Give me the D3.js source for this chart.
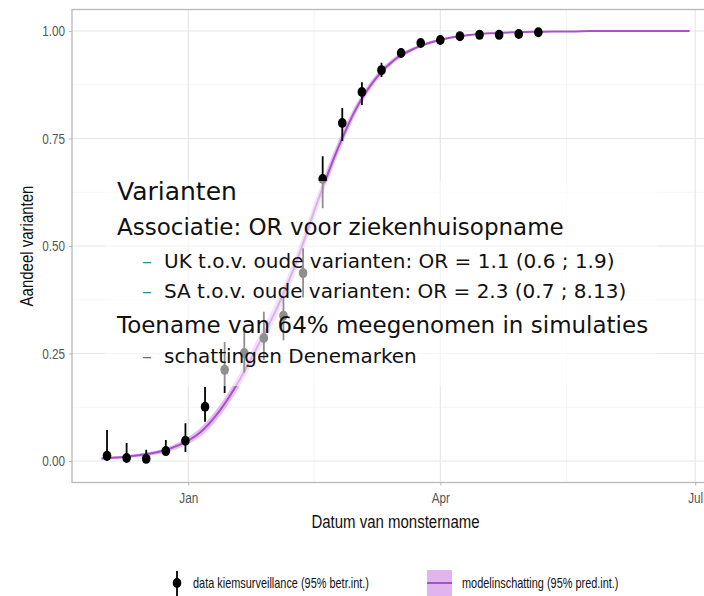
<!DOCTYPE html>
<html><head><meta charset="utf-8">
<script src="https://cdn.jsdelivr.net/npm/d3@7"></script>
<style>body{margin:0;background:#fff} svg{display:block}</style>
</head><body>
<svg id="chart" width="704" height="596"></svg>
<script>
// ---- data ----
const pointDates = ["2020-12-03","2020-12-10","2020-12-17","2020-12-24","2020-12-31","2021-01-07","2021-01-14","2021-01-21","2021-01-28","2021-02-04","2021-02-11","2021-02-18","2021-02-25","2021-03-04","2021-03-11","2021-03-18","2021-03-25","2021-04-01","2021-04-08","2021-04-15","2021-04-22","2021-04-29","2021-05-06"];
const pointValues = [0.012,0.007,0.005,0.023,0.047,0.126,0.212,0.251,0.286,0.338,0.437,0.656,0.786,0.858,0.909,0.949,0.972,0.979,0.988,0.991,0.991,0.993,0.997];
const pointLow    = [0.000,0.000,0.000,0.014,0.021,0.091,0.158,0.205,0.235,0.281,0.380,0.588,0.744,0.828,0.893,0.938,0.964,0.972,0.983,0.987,0.987,0.990,0.994];
const pointHigh   = [0.072,0.042,0.026,0.049,0.088,0.172,0.277,0.305,0.347,0.381,0.495,0.709,0.821,0.881,0.926,0.960,0.980,0.986,0.993,0.995,0.995,0.996,0.999];

const fitDates = ["2020-12-01","2020-12-08","2020-12-15","2020-12-22","2020-12-29","2021-01-05","2021-01-12","2021-01-19","2021-01-26","2021-02-02","2021-02-09","2021-02-16","2021-02-23","2021-03-02","2021-03-09","2021-03-16","2021-03-23","2021-03-30","2021-04-06","2021-04-13","2021-04-20","2021-04-27","2021-05-04","2021-05-11","2021-05-18","2021-05-25","2021-06-01","2021-06-08","2021-06-15","2021-06-22","2021-06-29"];
const fitValues = [0.006,0.009,0.014,0.022,0.038,0.065,0.115,0.185,0.270,0.360,0.470,0.600,0.720,0.820,0.890,0.935,0.960,0.976,0.986,0.992,0.995,0.997,0.998,0.999,0.999,1,1,1,1,1,1];
const fitLow    = [0.003,0.006,0.010,0.017,0.031,0.055,0.102,0.170,0.252,0.341,0.451,0.582,0.705,0.809,0.882,0.929,0.956,0.973,0.984,0.991,0.994,0.996,0.997,0.998,0.998,0.999,0.999,0.999,0.999,0.999,0.999];
const fitHigh   = [0.009,0.012,0.018,0.027,0.045,0.075,0.128,0.200,0.288,0.379,0.489,0.618,0.735,0.831,0.898,0.941,0.964,0.979,0.988,0.993,0.996,0.998,0.999,1,1,1,1,1,1,1,1];

const xTickDates = ["2021-01-01","2021-04-01","2021-07-01"];
const xTickLabels = ["Jan","Apr","Jul"];
const xMinorDates = ["2021-02-15","2021-05-16"];
const yTicks = [0, 0.25, 0.5, 0.75, 1];
const yTickLabels = ["0.00","0.25","0.50","0.75","1.00"];
const yMinor = [0.125, 0.375, 0.625, 0.875];

const annotTitle = "Varianten";
const annotLines = [
  {text: "Associatie: OR voor ziekenhuisopname", level: 1},
  {text: "UK t.o.v. oude varianten: OR = 1.1 (0.6 ; 1.9)", level: 2},
  {text: "SA t.o.v. oude varianten: OR = 2.3 (0.7 ; 8.13)", level: 2},
  {text: "Toename van 64% meegenomen in simulaties", level: 1},
  {text: "schattingen Denemarken", level: 2}
];
const legendLabels = ["data kiemsurveillance (95% betr.int.)", "modelinschatting (95% pred.int.)"];

// ---- setup ----
const parse = d3.utcParse("%Y-%m-%d");
const svg = d3.select("#chart");
const panel = {left: 72, right: 719, top: 9.5, bottom: 482.5};
const NARROW = 0.81;

const x = d3.scaleUtc()
  .domain([Date.UTC(2020,10,20,12), Date.UTC(2021,6,9,12)])
  .range([panel.left, panel.right]);
const y = d3.scaleLinear().domain([-0.05, 1.05]).range([panel.bottom, panel.top]);

const points = pointDates.map((d,i)=>({date: parse(d), v: pointValues[i], lo: pointLow[i], hi: pointHigh[i]}));
const fit = fitDates.map((d,i)=>({date: parse(d), v: fitValues[i], lo: fitLow[i], hi: fitHigh[i]}));

svg.append("defs").append("clipPath").attr("id","pclip")
  .append("rect").attr("x",panel.left).attr("y",panel.top)
  .attr("width",panel.right-panel.left).attr("height",panel.bottom-panel.top);

const g = svg.append("g").attr("clip-path","url(#pclip)");

// grid
g.selectAll(".yminor").data(yMinor).join("line")
  .attr("x1",panel.left).attr("x2",panel.right)
  .attr("y1",d=>y(d)).attr("y2",d=>y(d))
  .attr("stroke","#f2f2f2").attr("stroke-width",0.8);
g.selectAll(".xminor").data(xMinorDates).join("line")
  .attr("y1",panel.top).attr("y2",panel.bottom)
  .attr("x1",d=>x(parse(d))).attr("x2",d=>x(parse(d)))
  .attr("stroke","#f2f2f2").attr("stroke-width",0.8);
g.selectAll(".ymajor").data(yTicks).join("line")
  .attr("x1",panel.left).attr("x2",panel.right)
  .attr("y1",d=>y(d)).attr("y2",d=>y(d))
  .attr("stroke","#e6e6e6").attr("stroke-width",1.1);
g.selectAll(".xmajor").data(xTickDates).join("line")
  .attr("y1",panel.top).attr("y2",panel.bottom)
  .attr("x1",d=>x(parse(d))).attr("x2",d=>x(parse(d)))
  .attr("stroke","#e6e6e6").attr("stroke-width",1.1);

// ribbon + line
g.append("path").datum(fit)
  .attr("d", d3.area().x(d=>x(d.date)).y0(d=>y(d.lo)).y1(d=>y(d.hi)).curve(d3.curveMonotoneX))
  .attr("fill","#dba6eb").attr("opacity",0.75);
g.append("path").datum(fit)
  .attr("d", d3.line().x(d=>x(d.date)).y(d=>y(d.v)).curve(d3.curveMonotoneX))
  .attr("fill","none").attr("stroke","#a852c8").attr("stroke-width",2);

// error bars + points
g.selectAll(".eb").data(points).join("line")
  .attr("x1",d=>x(d.date)).attr("x2",d=>x(d.date))
  .attr("y1",d=>y(d.lo)).attr("y2",d=>y(d.hi))
  .attr("stroke","#000").attr("stroke-width",1.8);
g.selectAll(".pt").data(points).join("ellipse")
  .attr("cx",d=>x(d.date)).attr("cy",d=>y(d.v))
  .attr("rx",4.3).attr("ry",5)
  .attr("fill","#000");

// overlay annotation box
svg.append("rect").attr("x",105).attr("y",181).attr("width",552).attr("height",205)
  .attr("fill","#fff").attr("opacity",0.56);

const ann = svg.append("g").attr("font-family","DejaVu Sans").attr("fill","#111");
ann.append("text").attr("x",117).attr("y",200).attr("font-size",25).text(annotTitle);
const annY = [235, 268, 298, 333, 363];
annotLines.forEach((l,i)=>{
  if (l.level===1){
    ann.append("text").attr("x",117).attr("y",annY[i]).attr("font-size",23).text(l.text);
  } else {
    ann.append("text").attr("x",142).attr("y",annY[i]).attr("font-size",20).attr("fill","#2b8a9c").text("–");
    ann.append("text").attr("x",164).attr("y",annY[i]).attr("font-size",20).text(l.text);
  }
});

// panel border
svg.append("rect").attr("x",panel.left).attr("y",panel.top)
  .attr("width",panel.right-panel.left).attr("height",panel.bottom-panel.top)
  .attr("fill","none").attr("stroke","#b8b8b8").attr("stroke-width",1.3);

// axes
const xAxis = d3.axisBottom(x).tickValues(xTickDates.map(parse))
  .tickFormat((d,i)=>xTickLabels[i]).tickSize(3).tickPadding(7);
const xa = svg.append("g").attr("transform",`translate(0,${panel.bottom})`).call(xAxis);
const yAxis = d3.axisLeft(y).tickValues(yTicks).tickFormat((d,i)=>yTickLabels[i]).tickSize(3).tickPadding(4);
const ya = svg.append("g").attr("transform",`translate(${panel.left},0)`).call(yAxis);
[xa,ya].forEach(a=>{
  a.select(".domain").remove();
  a.selectAll(".tick line").attr("stroke","#b8b8b8");
  a.selectAll(".tick text").attr("fill","#555").attr("font-family","Liberation Sans, Arial, sans-serif").attr("font-size",14.5);
});
xa.selectAll(".tick text").attr("transform",`scale(${NARROW},1)`);
ya.selectAll(".tick text").attr("x",0).attr("transform",`translate(-7,0) scale(${NARROW},1)`);

// axis titles
svg.append("text").attr("transform",`translate(${(panel.left+panel.right)/2},528) scale(${NARROW},1)`)
  .attr("text-anchor","middle")
  .attr("font-family","Liberation Sans, Arial, sans-serif").attr("font-size",18.5).attr("fill","#111")
  .text("Datum van monstername");
svg.append("text").attr("transform",`translate(33,${(panel.top+panel.bottom)/2}) rotate(-90) scale(${NARROW},1)`)
  .attr("text-anchor","middle")
  .attr("font-family","Liberation Sans, Arial, sans-serif").attr("font-size",18.5).attr("fill","#111")
  .text("Aandeel varianten");

// legend
const lg = svg.append("g");
lg.append("line").attr("x1",177).attr("x2",177).attr("y1",571).attr("y2",596).attr("stroke","#000").attr("stroke-width",1.8);
lg.append("ellipse").attr("cx",177).attr("cy",583).attr("rx",4.3).attr("ry",5).attr("fill","#000");
lg.append("text").attr("transform",`translate(193,588) scale(0.78,1)`).attr("font-family","Liberation Sans, Arial, sans-serif")
  .attr("font-size",14).attr("fill","#111").text(legendLabels[0]);
lg.append("rect").attr("x",427).attr("y",570).attr("width",25).attr("height",26).attr("fill","#e2b4ef");
lg.append("line").attr("x1",427).attr("x2",452).attr("y1",583).attr("y2",583).attr("stroke","#a852c8").attr("stroke-width",2);
lg.append("text").attr("transform",`translate(462,588) scale(0.78,1)`).attr("font-family","Liberation Sans, Arial, sans-serif")
  .attr("font-size",14).attr("fill","#111").text(legendLabels[1]);
</script>
</body></html>
